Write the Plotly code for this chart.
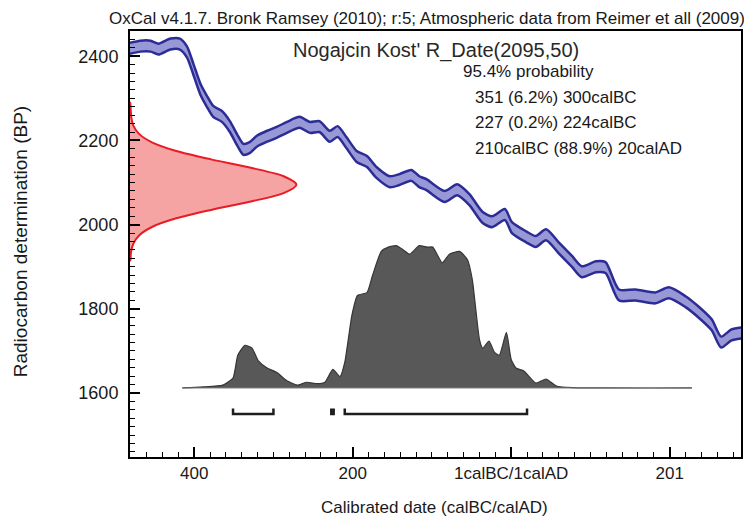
import plotly.graph_objects as go

# ---------------- data ----------------
# Calibration curve (IntCal09 atmospheric), centre line: calendar year (BC negative) vs BP
curve_year = [-481, -468, -455, -445, -430, -418, -409, -401, -392, -384, -376, -365, -355, -346,
              -338, -330, -321, -308, -296, -283, -267, -254, -242, -229, -219, -208, -195, -182,
              -170, -153, -141, -126, -116, -107, -84, -68, -53, -36, -24, -8, 1, 19, 31, 44, 60,
              77, 89, 107, 119, 136, 157, 182, 199, 220, 236, 253, 265, 278, 291]
curve_bp = [2419, 2424, 2424, 2417, 2429, 2429, 2410, 2369, 2321, 2293, 2269, 2257, 2233, 2202,
            2179, 2183, 2198, 2210, 2219, 2231, 2243, 2231, 2233, 2210, 2221, 2195, 2162, 2150,
            2124, 2102, 2107, 2117, 2102, 2095, 2067, 2083, 2060, 2017, 2007, 2024, 1993, 1971, 1960,
            1976, 1945, 1912, 1888, 1900, 1898, 1833, 1833, 1826, 1838, 1817, 1793, 1762, 1721,
            1738, 1743]
curve_sigma = 13

# Radiocarbon date R_Date(2095,50): relative probability vs BP offset
rdate_mean = 2095
rdate_offset = [-180, -160, -140, -120, -100, -80, -60, -40, -20, 0, 20, 40, 60, 80, 100, 120, 140, 160, 180, 195]
rdate_prob = [0.002, 0.006, 0.02, 0.056, 0.135, 0.278, 0.487, 0.726, 0.923, 1.0,
              0.923, 0.726, 0.487, 0.278, 0.135, 0.056, 0.02, 0.008, 0.004, 0.001]

# Calibrated probability distribution (relative)
cal_year = [-415, -389, -364, -351, -345, -336, -327, -319, -308, -296, -283, -270, -258, -245,
            -235, -225, -216, -210, -201, -194, -182, -175, -164, -155, -145, -136, -128, -116,
            -106, -99, -87, -78, -65, -55, -49, -40, -36, -28, -21, -15, -6, 0, 6, 16, 31, 44,
            57, 77, 120, 228]
cal_prob = [0, 0.007, 0.02, 0.07, 0.23, 0.30, 0.28, 0.19, 0.14, 0.11, 0.05, 0.02, 0.04, 0.03,
            0.04, 0.13, 0.08, 0.18, 0.51, 0.65, 0.67, 0.79, 0.96, 0.99, 1.0, 0.97, 0.94, 1.0,
            0.99, 0.99, 0.88, 0.94, 0.96, 0.90, 0.76, 0.34, 0.28, 0.33, 0.25, 0.23, 0.39, 0.20,
            0.14, 0.12, 0.035, 0.063, 0.014, 0.002, 0, 0]

# 95.4% ranges (BC negative)
ranges = [(-351, -300), (-227, -224), (-210, 20)]

x_tickvals = [-400, -200, 0, 200]
x_ticktext = ['400', '200', '1calBC/1calAD', '201']
y_tickvals = [1600, 1800, 2000, 2200, 2400]

title_text = "OxCal v4.1.7. Bronk Ramsey (2010); r:5; Atmospheric data from Reimer et all (2009)"
date_name = "Nogajcin Kost' R_Date(2095,50)"
prob_lines = ["95.4% probability", "351 (6.2%) 300calBC", "227 (0.2%) 224calBC",
              "210calBC (88.9%) 20calAD"]

# ---------------- figure ----------------
X_MIN, X_MAX = -481, 290
Y_MIN, Y_MAX = 1448, 2460
RDATE_WIDTH = 210       # years used for the peak of the R_Date curve
CAL_BASE = 1612         # BP level of the calibrated distribution baseline
CAL_HEIGHT = 338        # BP height for maximum probability
BR_Y, BR_TICK = 1550, 1563

fig = go.Figure()

# R_Date distribution on y axis
rx = [X_MIN] + [X_MIN + p * RDATE_WIDTH for p in rdate_prob] + [X_MIN]
ry = [rdate_mean + rdate_offset[0]] + [rdate_mean + o for o in rdate_offset] + [rdate_mean + rdate_offset[-1]]
fig.add_trace(go.Scatter(x=rx, y=ry, mode='lines', fill='toself',
                         fillcolor='rgb(245,163,163)',
                         line=dict(color='rgb(232,28,36)', width=2, shape='spline', smoothing=0.8),
                         hoverinfo='skip', showlegend=False))

# Calibration curve band
lower = [b - curve_sigma for b in curve_bp]
upper = [b + curve_sigma for b in curve_bp]
fig.add_trace(go.Scatter(x=curve_year, y=lower, mode='lines',
                         line=dict(color='rgb(44,44,150)', width=2.5, shape='spline', smoothing=0.7),
                         hoverinfo='skip', showlegend=False))
fig.add_trace(go.Scatter(x=curve_year, y=upper, mode='lines', fill='tonexty',
                         fillcolor='rgb(152,152,214)',
                         line=dict(color='rgb(44,44,150)', width=2.5, shape='spline', smoothing=0.7),
                         hoverinfo='skip', showlegend=False))

# Calibrated distribution
cy = [CAL_BASE + p * CAL_HEIGHT for p in cal_prob]
fig.add_trace(go.Scatter(x=[cal_year[0]] + cal_year + [cal_year[-1]],
                         y=[CAL_BASE] + cy + [CAL_BASE],
                         mode='lines', fill='toself', fillcolor='rgb(88,88,88)',
                         line=dict(color='rgb(50,55,55)', width=1.2, shape='spline', smoothing=0.5),
                         hoverinfo='skip', showlegend=False))
fig.add_trace(go.Scatter(x=[cal_year[0], cal_year[-1]], y=[CAL_BASE, CAL_BASE], mode='lines',
                         line=dict(color='rgb(120,120,120)', width=1),
                         hoverinfo='skip', showlegend=False))

# 95.4% range brackets
for a, b in ranges:
    fig.add_trace(go.Scatter(x=[a, a, b, b], y=[BR_TICK, BR_Y, BR_Y, BR_TICK], mode='lines',
                             line=dict(color='rgb(30,30,30)', width=2.5),
                             hoverinfo='skip', showlegend=False))

font_family = "Liberation Sans, Arial, sans-serif"
txt = 'rgb(25,25,25)'

annotations = [
    dict(text=title_text, x=1.008, y=1.053, xanchor='right', yanchor='top', borderpad=0,
         font=dict(size=17, color=txt)),
    dict(text=date_name, x=0.501, y=0.955, xanchor='center', yanchor='middle',
         font=dict(size=20, color='rgb(40,40,40)')),
    dict(text=prob_lines[0], x=0.5416, y=0.904, xanchor='left', yanchor='middle',
         font=dict(size=17, color=txt)),
    dict(text=prob_lines[1], x=0.561, y=0.845, xanchor='left', yanchor='middle',
         font=dict(size=17, color=txt)),
    dict(text=prob_lines[2], x=0.561, y=0.786, xanchor='left', yanchor='middle',
         font=dict(size=17, color=txt)),
    dict(text=prob_lines[3], x=0.561, y=0.725, xanchor='left', yanchor='middle',
         font=dict(size=17, color=txt)),
    dict(text="Radiocarbon determination (BP)", x=-0.1794, y=0.505, textangle=-90,
         xanchor='center', yanchor='middle', font=dict(size=19, color=txt)),
    dict(text="Calibrated date (calBC/calAD)", x=0.4976, y=-0.1197, xanchor='center',
         yanchor='middle', font=dict(size=17, color=txt)),
]
for a in annotations:
    a.update(xref='paper', yref='paper', showarrow=False)

# The page body adds an 8px offset, so the figure is 8px smaller in each direction.
fig.update_layout(
    width=744, height=514,
    margin=dict(l=122, r=9, t=23, b=65),
    paper_bgcolor='white', plot_bgcolor='white',
    font=dict(family=font_family, color=txt),
    annotations=annotations,
    xaxis=dict(range=[X_MIN, X_MAX], tickmode='array', tickvals=x_tickvals, ticktext=x_ticktext,
               ticks='inside', ticklen=10, tickwidth=1.5, tickcolor='black',
               minor=dict(tickmode='linear', tick0=0, dtick=20, ticks='inside', ticklen=5,
                          tickwidth=1, tickcolor='black'),
               showline=True, linewidth=2, linecolor='black', mirror=True,
               showgrid=False, zeroline=False, tickfont=dict(size=17, color=txt)),
    yaxis=dict(range=[Y_MIN, Y_MAX], tickmode='array', tickvals=y_tickvals,
               ticks='inside', ticklen=10, tickwidth=1.5, tickcolor='black',
               minor=dict(tickmode='linear', tick0=0, dtick=20, ticks='inside', ticklen=5,
                          tickwidth=1, tickcolor='black'),
               showline=True, linewidth=2, linecolor='black', mirror=True,
               showgrid=False, zeroline=False, tickfont=dict(size=18, color=txt),
               ticklabelstandoff=6),
)

fig.write_html("out.html")
